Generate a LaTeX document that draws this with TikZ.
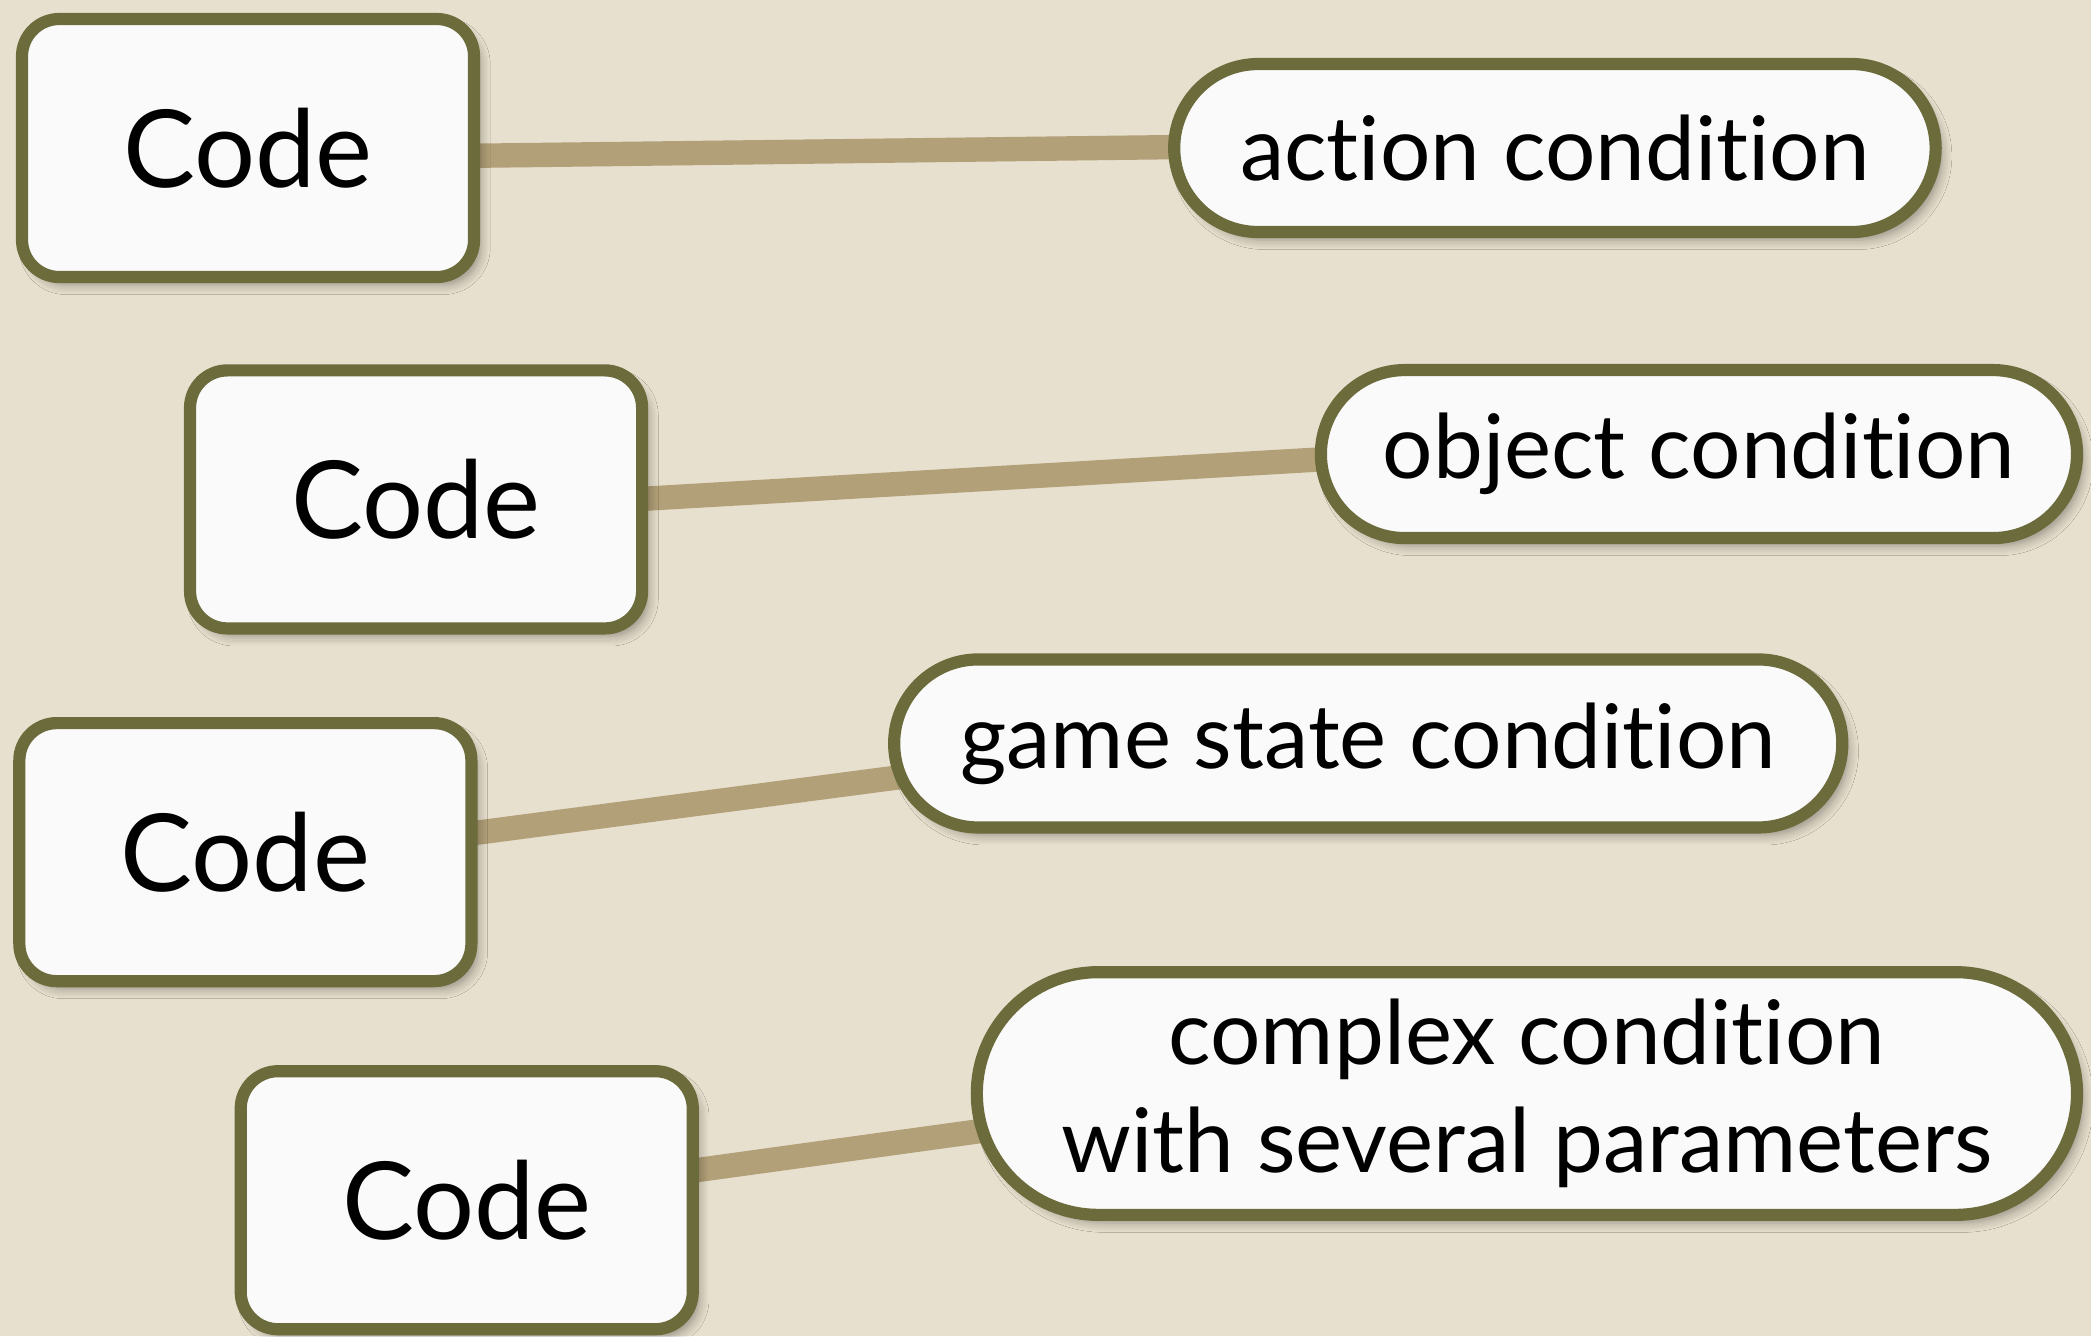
\documentclass[tikz,border=0pt]{standalone}
\usepackage{fontspec}
\setmainfont{Lato}[Ligatures=NoCommon]
\usepackage{tikz}
\usetikzlibrary{shapes}
\usetikzlibrary{positioning}
\usetikzlibrary{calc}
\usetikzlibrary{backgrounds}
\usetikzlibrary{shadows.blur}
\definecolor{paper}{RGB}{232,224,206}
\definecolor{rim}{RGB}{108,107,60}
\definecolor{linkc}{RGB}{178,160,120}
\definecolor{boxfill}{RGB}{250,250,250}

\begin{document}
\begin{tikzpicture}[
    code/.style={draw=rim, line width=2.6pt, fill=boxfill, rounded corners=0.28cm,
      minimum width=3.39cm, minimum height=1.935cm,
      font=\fontsize{23}{27}\selectfont,
      blur shadow={shadow xshift=0.05cm, shadow yshift=-0.06cm, shadow opacity=35, shadow blur steps=6}},
    cond/.style={rounded rectangle, draw=rim, line width=2.6pt, fill=boxfill,
      minimum height=1.26cm, inner xsep=0pt, align=center,
      font=\fontsize{19}{23}\selectfont,
      blur shadow={shadow xshift=0.05cm, shadow yshift=-0.06cm, shadow opacity=35, shadow blur steps=6}},
    link/.style={line width=5.2pt, linkc}]
    \useasboundingbox (0,0) rectangle (15.68,-10.02);

    \node[code] (c1) at (1.86,-1.11) {Code};
    \node[code] (c2) at (3.12,-3.745) {Code};
    \node[code] (c3) at (1.84,-6.39) {Code};
    \node[code] (c4) at (3.50,-9.00) {Code};

    \node[cond, minimum width=5.71cm] (p1) at (11.66,-1.11) {action condition};
    \node[cond, minimum width=5.67cm] (p2) at (12.74,-3.405) {object condition};
    \node[cond, minimum width=7.11cm] (p3) at (10.26,-5.575) {game state condition};
    \node[cond, minimum width=8.25cm, minimum height=1.82cm] (p4) at (11.45,-8.20)
      {complex condition\\with several parameters};

    \begin{scope}[on background layer]
    \fill[paper] (0,0) rectangle (15.68,-10.02);
    \draw[link] ($(c1.east)+(-0.2,-0.06)$) -- ($(p1.west)+(0.3,0.01)$);
    \draw[link] ($(c2.east)+(-0.2,-0.005)$) -- ($(p2.west)+(0.3,-0.025)$);
    \draw[link] ($(c3.east)+(-0.2,0.12)$) -- ($(p3.west)+(0.3,-0.225)$);
    \draw[link] ($(c4.east)+(-0.2,0.20)$) -- ($(p4.west)+(0.3,-0.25)$);
    \end{scope}
\end{tikzpicture}
\end{document}
